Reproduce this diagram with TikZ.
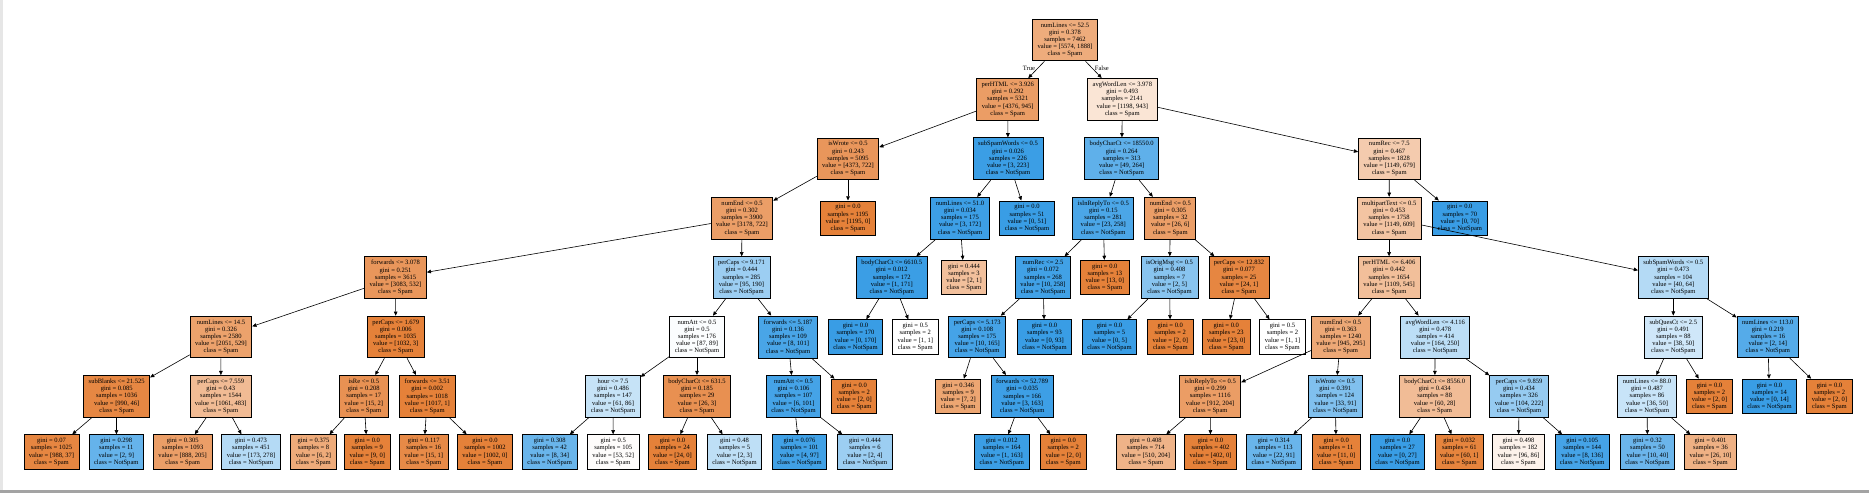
\documentclass[tikz,border=0pt]{standalone}
\usepackage{fontspec}
\setmainfont{Liberation Serif}
\usepackage{tikz}
\usetikzlibrary{arrows.meta}
\definecolor{SpamOrange}{HTML}{E58139}
\definecolor{HamBlue}{HTML}{399DE5}
\definecolor{SideGrey}{HTML}{E6E6E6}
\definecolor{BarGrey}{HTML}{A3A3A3}

\begin{document}
\begin{tikzpicture}[x=1pt, y=-1pt,
    treenode/.style={draw=black, line width=0.8pt, rectangle, align=center,
      inner xsep=5pt, inner ysep=3.6pt, font=\fontsize{6.55}{7.2}\selectfont},
    spam/.style={treenode, fill=SpamOrange!#1},
    ham/.style={treenode, fill=HamBlue!#1},
    branch/.style={line width=0.6pt, -{Triangle[length=4.2pt, width=3.6pt]}},
    elabel/.style={font=\fontsize{6.55}{7.2}\selectfont, inner sep=1pt}]
    \useasboundingbox (0,0) rectangle (1869,493);
    \fill[SideGrey] (0,0) rectangle (3.3,489.5);
    \fill[BarGrey] (0,489.5) rectangle (1869,493);

    \node[spam=66] (n0) at (1065,40) {numLines <= 52.5\\gini = 0.378\\samples = 7462\\value = [5574, 1888]\\class = Spam};
    \node[spam=78] (n1) at (1007.7,99.4) {perHTML <= 3.926\\gini = 0.292\\samples = 5321\\value = [4376, 945]\\class = Spam};
    \node[spam=21] (n40) at (1122.3,99.4) {avgWordLen <= 3.978\\gini = 0.493\\samples = 2141\\value = [1198, 943]\\class = Spam};

    \node[spam=83] (n2) at (848,158.8) {isWrote <= 0.5\\gini = 0.243\\samples = 5095\\value = [4373, 722]\\class = Spam};
    \node[ham=99] (n33) at (1008,158.8) {subSpamWords <= 0.5\\gini = 0.026\\samples = 226\\value = [3, 223]\\class = NotSpam};
    \node[ham=81] (n41) at (1121.7,158.8) {bodyCharCt <= 18550.0\\gini = 0.264\\samples = 313\\value = [49, 264]\\class = NotSpam};
    \node[spam=41] (n58) at (1389.3,158.8) {numRec <= 7.5\\gini = 0.467\\samples = 1828\\value = [1149, 679]\\class = Spam};

    \node[spam=77] (n3) at (742,218.2) {numEnd <= 0.5\\gini = 0.302\\samples = 3900\\value = [3178, 722]\\class = Spam};
    \node[spam=100] (n32) at (848,218.2) {gini = 0.0\\samples = 1195\\value = [1195, 0]\\class = Spam};
    \node[ham=98] (n34) at (960,218.2) {numLines <= 51.0\\gini = 0.034\\samples = 175\\value = [3, 172]\\class = NotSpam};
    \node[ham=100] (n39) at (1027,218.2) {gini = 0.0\\samples = 51\\value = [0, 51]\\class = NotSpam};
    \node[ham=91] (n42) at (1103.3,218.2) {isInReplyTo <= 0.5\\gini = 0.15\\samples = 281\\value = [23, 258]\\class = NotSpam};
    \node[spam=77] (n51) at (1170.3,218.2) {numEnd <= 0.5\\gini = 0.305\\samples = 32\\value = [26, 6]\\class = Spam};
    \node[spam=47] (n59) at (1389.1,218.2) {multipartText <= 0.5\\gini = 0.453\\samples = 1758\\value = [1149, 609]\\class = Spam};
    \node[ham=100] (n84) at (1459.8,218.2) {gini = 0.0\\samples = 70\\value = [0, 70]\\class = NotSpam};

    \node[spam=83] (n4) at (395.5,277.6) {forwards <= 3.078\\gini = 0.251\\samples = 3615\\value = [3083, 532]\\class = Spam};
    \node[ham=50] (n19) at (741.5,277.6) {perCaps <= 9.171\\gini = 0.444\\samples = 285\\value = [95, 190]\\class = NotSpam};
    \node[ham=99] (n35) at (891.8,277.6) {bodyCharCt <= 6610.5\\gini = 0.012\\samples = 172\\value = [1, 171]\\class = NotSpam};
    \node[spam=50] (n38) at (964,277.6) {gini = 0.444\\samples = 3\\value = [2, 1]\\class = Spam};
    \node[ham=96] (n43) at (1043,277.6) {numRec <= 2.5\\gini = 0.072\\samples = 268\\value = [10, 258]\\class = NotSpam};
    \node[spam=100] (n50) at (1104.8,277.6) {gini = 0.0\\samples = 13\\value = [13, 0]\\class = Spam};
    \node[ham=60] (n52) at (1169.5,277.6) {isOrigMsg <= 0.5\\gini = 0.408\\samples = 7\\value = [2, 5]\\class = NotSpam};
    \node[spam=96] (n55) at (1239,277.6) {perCaps <= 12.832\\gini = 0.077\\samples = 25\\value = [24, 1]\\class = Spam};
    \node[spam=51] (n60) at (1389.1,277.6) {perHTML <= 6.406\\gini = 0.442\\samples = 1654\\value = [1109, 545]\\class = Spam};
    \node[ham=38] (n75) at (1673.3,277.6) {subSpamWords <= 0.5\\gini = 0.473\\samples = 104\\value = [40, 64]\\class = NotSpam};

    \node[spam=74] (n5) at (221,337) {numLines <= 14.5\\gini = 0.326\\samples = 2580\\value = [2051, 529]\\class = Spam};
    \node[spam=100] (n12) at (395.8,337) {perCaps <= 1.679\\gini = 0.006\\samples = 1035\\value = [1032, 3]\\class = Spam};
    \node[ham=2] (n20) at (697,337) {numAtt <= 0.5\\gini = 0.5\\samples = 176\\value = [87, 89]\\class = NotSpam};
    \node[ham=92] (n27) at (788,337) {forwards <= 5.187\\gini = 0.136\\samples = 109\\value = [8, 101]\\class = NotSpam};
    \node[ham=100] (n36) at (855.5,337) {gini = 0.0\\samples = 170\\value = [0, 170]\\class = NotSpam};
    \node[spam=0] (n37) at (915.3,337) {gini = 0.5\\samples = 2\\value = [1, 1]\\class = Spam};
    \node[ham=94] (n44) at (977.2,337) {perCaps <= 5.173\\gini = 0.108\\samples = 175\\value = [10, 165]\\class = NotSpam};
    \node[ham=100] (n49) at (1044.5,337) {gini = 0.0\\samples = 93\\value = [0, 93]\\class = NotSpam};
    \node[ham=100] (n53) at (1109.5,337) {gini = 0.0\\samples = 5\\value = [0, 5]\\class = NotSpam};
    \node[spam=100] (n54) at (1170.3,337) {gini = 0.0\\samples = 2\\value = [2, 0]\\class = Spam};
    \node[spam=100] (n56) at (1226.3,337) {gini = 0.0\\samples = 23\\value = [23, 0]\\class = Spam};
    \node[spam=0] (n57) at (1282.5,337) {gini = 0.5\\samples = 2\\value = [1, 1]\\class = Spam};
    \node[spam=69] (n61) at (1340.7,337) {numEnd <= 0.5\\gini = 0.363\\samples = 1240\\value = [945, 295]\\class = Spam};
    \node[ham=34] (n68) at (1435.2,337) {avgWordLen <= 4.116\\gini = 0.478\\samples = 414\\value = [164, 250]\\class = NotSpam};
    \node[ham=24] (n76) at (1673.3,337) {subQuesCt <= 2.5\\gini = 0.491\\samples = 88\\value = [38, 50]\\class = NotSpam};
    \node[ham=86] (n81) at (1767.8,337) {numLines <= 113.0\\gini = 0.219\\samples = 16\\value = [2, 14]\\class = NotSpam};

    \node[spam=95] (n6) at (116.7,396.4) {subBlanks <= 21.525\\gini = 0.085\\samples = 1036\\value = [990, 46]\\class = Spam};
    \node[spam=54] (n9) at (220.8,396.4) {perCaps <= 7.559\\gini = 0.43\\samples = 1544\\value = [1061, 483]\\class = Spam};
    \node[spam=87] (n13) at (363.8,396.4) {isRe <= 0.5\\gini = 0.208\\samples = 17\\value = [15, 2]\\class = Spam};
    \node[spam=100] (n16) at (427.3,396.4) {forwards <= 3.51\\gini = 0.002\\samples = 1018\\value = [1017, 1]\\class = Spam};
    \node[ham=29] (n21) at (613,396.4) {hour <= 7.5\\gini = 0.486\\samples = 147\\value = [61, 86]\\class = NotSpam};
    \node[spam=88] (n24) at (697,396.4) {bodyCharCt <= 631.5\\gini = 0.185\\samples = 29\\value = [26, 3]\\class = Spam};
    \node[ham=94] (n28) at (793.5,396.4) {numAtt <= 0.5\\gini = 0.106\\samples = 107\\value = [6, 101]\\class = NotSpam};
    \node[spam=100] (n31) at (854.2,396.4) {gini = 0.0\\samples = 2\\value = [2, 0]\\class = Spam};
    \node[spam=71] (n45) at (958.2,396.4) {gini = 0.346\\samples = 9\\value = [7, 2]\\class = Spam};
    \node[ham=98] (n46) at (1022.2,396.4) {forwards <= 52.789\\gini = 0.035\\samples = 166\\value = [3, 163]\\class = NotSpam};
    \node[spam=78] (n62) at (1210.2,396.4) {isInReplyTo <= 0.5\\gini = 0.299\\samples = 1116\\value = [912, 204]\\class = Spam};
    \node[ham=64] (n65) at (1335.3,396.4) {isWrote <= 0.5\\gini = 0.391\\samples = 124\\value = [33, 91]\\class = NotSpam};
    \node[spam=53] (n69) at (1434.7,396.4) {bodyCharCt <= 8556.0\\gini = 0.434\\samples = 88\\value = [60, 28]\\class = Spam};
    \node[ham=53] (n72) at (1519,396.4) {perCaps <= 9.859\\gini = 0.434\\samples = 326\\value = [104, 222]\\class = NotSpam};
    \node[ham=28] (n77) at (1647,396.4) {numLines <= 88.0\\gini = 0.487\\samples = 86\\value = [36, 50]\\class = NotSpam};
    \node[spam=100] (n80) at (1709.5,396.4) {gini = 0.0\\samples = 2\\value = [2, 0]\\class = Spam};
    \node[ham=100] (n82) at (1769.5,396.4) {gini = 0.0\\samples = 14\\value = [0, 14]\\class = NotSpam};
    \node[spam=100] (n83) at (1829.5,396.4) {gini = 0.0\\samples = 2\\value = [2, 0]\\class = Spam};

    \node[spam=96] (n7) at (51.5,452) {gini = 0.07\\samples = 1025\\value = [988, 37]\\class = Spam};
    \node[ham=78] (n8) at (116.3,452) {gini = 0.298\\samples = 11\\value = [2, 9]\\class = NotSpam};
    \node[spam=77] (n10) at (182.7,452) {gini = 0.305\\samples = 1093\\value = [888, 205]\\class = Spam};
    \node[ham=38] (n11) at (251,452) {gini = 0.473\\samples = 451\\value = [173, 278]\\class = NotSpam};
    \node[spam=67] (n14) at (313.5,452) {gini = 0.375\\samples = 8\\value = [6, 2]\\class = Spam};
    \node[spam=100] (n15) at (367.3,452) {gini = 0.0\\samples = 9\\value = [9, 0]\\class = Spam};
    \node[spam=93] (n17) at (423.8,452) {gini = 0.117\\samples = 16\\value = [15, 1]\\class = Spam};
    \node[spam=100] (n18) at (485,452) {gini = 0.0\\samples = 1002\\value = [1002, 0]\\class = Spam};
    \node[ham=76] (n22) at (549.7,452) {gini = 0.308\\samples = 42\\value = [8, 34]\\class = NotSpam};
    \node[spam=2] (n23) at (613.2,452) {gini = 0.5\\samples = 105\\value = [53, 52]\\class = Spam};
    \node[spam=100] (n25) at (672.5,452) {gini = 0.0\\samples = 24\\value = [24, 0]\\class = Spam};
    \node[ham=33] (n26) at (734.5,452) {gini = 0.48\\samples = 5\\value = [2, 3]\\class = NotSpam};
    \node[ham=96] (n29) at (799.5,452) {gini = 0.076\\samples = 101\\value = [4, 97]\\class = NotSpam};
    \node[ham=50] (n30) at (865,452) {gini = 0.444\\samples = 6\\value = [2, 4]\\class = NotSpam};
    \node[ham=99] (n47) at (1001.8,452) {gini = 0.012\\samples = 164\\value = [1, 163]\\class = NotSpam};
    \node[spam=100] (n48) at (1063.3,452) {gini = 0.0\\samples = 2\\value = [2, 0]\\class = Spam};
    \node[spam=60] (n63) at (1145.8,452) {gini = 0.408\\samples = 714\\value = [510, 204]\\class = Spam};
    \node[spam=100] (n64) at (1210.5,452) {gini = 0.0\\samples = 402\\value = [402, 0]\\class = Spam};
    \node[ham=76] (n66) at (1273.8,452) {gini = 0.314\\samples = 113\\value = [22, 91]\\class = NotSpam};
    \node[spam=100] (n67) at (1336.2,452) {gini = 0.0\\samples = 11\\value = [11, 0]\\class = Spam};
    \node[ham=100] (n70) at (1397.5,452) {gini = 0.0\\samples = 27\\value = [0, 27]\\class = NotSpam};
    \node[spam=98] (n71) at (1459.3,452) {gini = 0.032\\samples = 61\\value = [60, 1]\\class = Spam};
    \node[spam=10] (n73) at (1518.5,452) {gini = 0.498\\samples = 182\\value = [96, 86]\\class = Spam};
    \node[ham=94] (n74) at (1582.2,452) {gini = 0.105\\samples = 144\\value = [8, 136]\\class = NotSpam};
    \node[ham=75] (n78) at (1647.5,452) {gini = 0.32\\samples = 50\\value = [10, 40]\\class = NotSpam};
    \node[spam=62] (n79) at (1710.5,452) {gini = 0.401\\samples = 36\\value = [26, 10]\\class = Spam};

    \draw[branch] (n0) -- node[elabel, midway, left, yshift=1.5pt] (truelbl) {True} (n1);
    \draw[branch] (n0) -- node[elabel, midway, right, yshift=1.5pt] (falselbl) {False} (n40);
    \foreach \from/\to in {n1/n2, n1/n33, n2/n3, n2/n32, n3/n4, n3/n19, n4/n5, n4/n12,
        n5/n6, n5/n9, n6/n7, n6/n8, n9/n10, n9/n11, n12/n13, n12/n16, n13/n14, n13/n15,
        n16/n17, n16/n18, n19/n20, n19/n27, n20/n21, n20/n24, n21/n22, n21/n23,
        n24/n25, n24/n26, n27/n28, n27/n31, n28/n29, n28/n30, n33/n34, n33/n39,
        n34/n35, n34/n38, n35/n36, n35/n37, n40/n41, n40/n58, n41/n42, n41/n51,
        n42/n43, n42/n50, n43/n44, n43/n49, n44/n45, n44/n46, n46/n47, n46/n48,
        n51/n52, n51/n55, n52/n53, n52/n54, n55/n56, n55/n57, n58/n59, n58/n84,
        n59/n60, n59/n75, n60/n61, n60/n68, n61/n62, n61/n65, n62/n63, n62/n64,
        n65/n66, n65/n67, n68/n69, n68/n72, n69/n70, n69/n71, n72/n73, n72/n74,
        n75/n76, n75/n81, n76/n77, n76/n80, n77/n78, n77/n79, n81/n82, n81/n83} {
      \draw[branch] (\from) -- (\to);
    }
  \end{tikzpicture}
\end{document}
